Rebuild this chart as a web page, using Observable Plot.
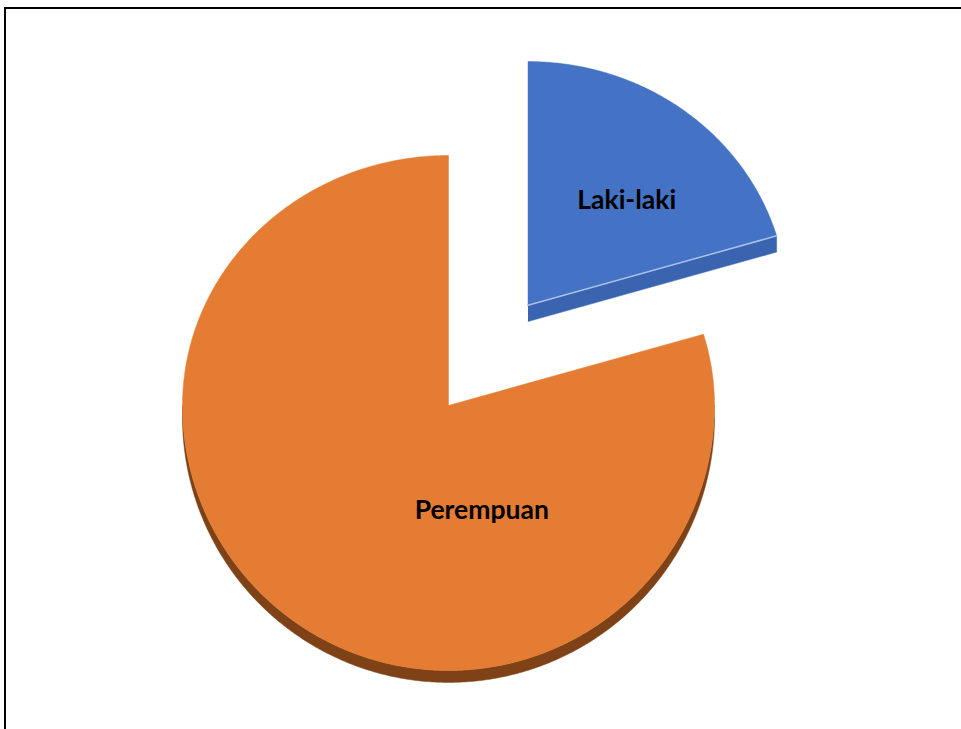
<!DOCTYPE html>
<html>
<head>
<meta charset="utf-8">
<script src="https://cdn.jsdelivr.net/npm/d3@7"></script>
<script src="https://cdn.jsdelivr.net/npm/@observablehq/plot@0.6"></script>
<style>
  html, body { margin: 0; padding: 0; background: #fff; overflow: hidden; }
  #wrap { position: relative; width: 961px; height: 729px; overflow: hidden; }
  #frame { position: absolute; left: 4px; top: 7px; width: 1000px; height: 800px; border: 2px solid #000; box-sizing: border-box; }
  #chart { position: absolute; left: 0; top: 0; }
  #chart svg text { font-family: Lato, "Open Sans", sans-serif; }
  #err { position: absolute; left: 20px; top: 20px; color: red; font: 12px monospace; white-space: pre; }
</style>
</head>
<body>
<div id="wrap"><div id="frame"></div><div id="chart"></div><div id="err"></div></div>
<script>
// ---- data ----
const categories = ["Laki-laki", "Perempuan"];
const values = [20.4, 79.6];

// ---- style / layout config ----
const topColors = ["#4472C4", "#E47D33"];
const rimColors = ["#3A62AD", "#7E4216"];
const edgeColors = ["#3B64B0", "#C9661F"];
const explode = [0.5, 0];
const radius = [0.975, 1];
const depth = [0.065, 0.045];
const labelAt = [[0.67, 0.82], [0.125, -0.395]];

try {
  const arcs = d3.pie().sort(null).startAngle(0).endAngle(2 * Math.PI)(values);
  const step = Math.PI / 360;
  const pt = (a, r = 1) => [r * Math.sin(a), r * Math.cos(a)];
  const arcPts = (a0, a1, r) => {
    const out = [];
    const n = Math.max(2, Math.ceil((a1 - a0) / step));
    for (let i = 0; i <= n; i++) out.push(pt(a0 + (a1 - a0) * i / n, r));
    return out;
  };

  const sidePolys = [], topPolys = [], hlPolys = [];
  arcs.forEach((arc, i) => {
    const mid = (arc.startAngle + arc.endAngle) / 2;
    const [ox, oy] = pt(mid, explode[i]);
    const r = radius[i], d = depth[i];
    const shift = pts => pts.map(([x, y]) => ({x: x + ox, y: y + oy, cat: categories[i]}));
    const r0 = Math.max(arc.startAngle, Math.PI / 2), r1 = Math.min(arc.endAngle, 3 * Math.PI / 2);
    if (r1 > r0) {
      const a = arcPts(r0, r1, r);
      sidePolys.push({color: rimColors[i], rows: shift([...a, ...a.slice().reverse().map(([x, y]) => [x, y - d])])});
    }
    if (Math.cos(arc.endAngle + Math.PI / 2) < -0.05) {
      const e = pt(arc.endAngle, r);
      sidePolys.push({color: edgeColors[i], rows: shift([[0, 0], e, [e[0], e[1] - d], [0, -d]])});
      hlPolys.push({color: "#A9C1EA", rows: shift([[0, 0], e])});
    }
    topPolys.push({color: topColors[i], rows: shift([[0, 0], ...arcPts(arc.startAngle, arc.endAngle, r), [0, 0]])});
  });

  const labels = categories.map((c, i) => ({cat: c, x: labelAt[i][0], y: labelAt[i][1]}));

  const chart = Plot.plot({
    width: 961,
    height: 729,
    marginTop: 0, marginRight: 0, marginBottom: 0, marginLeft: 0,
    x: {type: "linear", domain: [-1, 1], range: [182, 714], axis: null},
    y: {type: "linear", domain: [-1, 0, 1], range: [670, 405, 155], axis: null},
    marks: [
      ...sidePolys.map(p => Plot.line(p.rows, {x: "x", y: "y", fill: p.color, stroke: p.color, strokeWidth: 0.5})),
      ...topPolys.map(p => Plot.line(p.rows, {x: "x", y: "y", fill: p.color, stroke: p.color, strokeWidth: 0.5})),
      ...hlPolys.map(p => Plot.line(p.rows, {x: "x", y: "y", stroke: p.color, strokeWidth: 1.5})),
      Plot.text(labels, {x: "x", y: "y", text: "cat", fill: "#000", fontSize: 26.5, fontWeight: "bold"})
    ]
  });
  document.getElementById("chart").appendChild(chart);
} catch (e) {
  document.getElementById("err").textContent = String(e && e.stack || e);
}
</script>
</body>
</html>
